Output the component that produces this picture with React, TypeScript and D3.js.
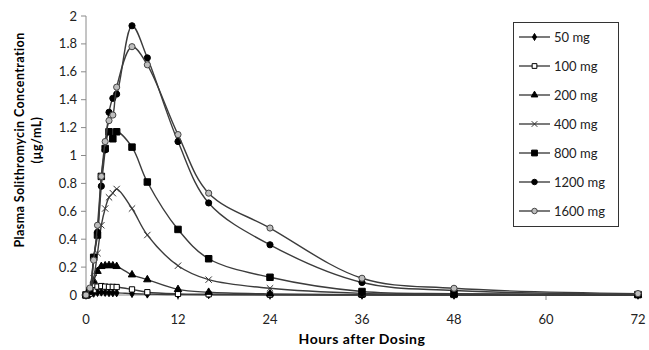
import { useEffect, useRef } from 'react'
import * as d3 from 'd3'

// sampling times (hours after dosing)
const hours = [0, 0.5, 1, 1.5, 2, 2.5, 3, 3.5, 4, 6, 8, 12, 16, 24, 36, 48, 72]

const doses = ['50 mg', '100 mg', '200 mg', '400 mg', '800 mg', '1200 mg', '1600 mg']

const conc50 = [0, 0.005, 0.012, 0.018, 0.02, 0.018, 0.016, 0.015, 0.015, 0.01, 0.006, 0.003, 0.002, 0.001, 0, 0, 0]
const conc100 = [0, 0.01, 0.035, 0.06, 0.064, 0.06, 0.058, 0.058, 0.057, 0.04, 0.02, 0.008, 0.005, 0.002, 0.001, 0, 0]
const conc200 = [0, 0.02, 0.1, 0.17, 0.205, 0.21, 0.212, 0.21, 0.205, 0.145, 0.11, 0.04, 0.02, 0.008, 0.003, 0.001, 0]
const conc400 = [0, 0.02, 0.12, 0.3, 0.5, 0.62, 0.7, 0.73, 0.76, 0.62, 0.43, 0.21, 0.11, 0.048, 0.012, 0.005, 0.001]
const conc800 = [0, 0.03, 0.27, 0.43, 0.85, 1.05, 1.17, 1.12, 1.17, 1.06, 0.81, 0.47, 0.26, 0.127, 0.025, 0.01, 0.003]
const conc1200 = [0, 0.04, 0.27, 0.45, 0.78, 1.04, 1.31, 1.41, 1.44, 1.93, 1.7, 1.1, 0.66, 0.36, 0.09, 0.032, 0.006]
const conc1600 = [0, 0.05, 0.25, 0.5, 0.85, 1.1, 1.25, 1.29, 1.49, 1.78, 1.65, 1.15, 0.73, 0.48, 0.12, 0.048, 0.01]

const seriesValues = [conc50, conc100, conc200, conc400, conc800, conc1200, conc1600]

const xTicks = [0, 12, 24, 36, 48, 60, 72]
const yTicks = [0, 0.2, 0.4, 0.6, 0.8, 1, 1.2, 1.4, 1.6, 1.8, 2]

const markerStyles = [
  { type: d3.symbolDiamond, size: 18, fill: '#000', stroke: '#000' },
  { type: d3.symbolSquare, size: 28, fill: '#fff', stroke: '#000' },
  { type: d3.symbolTriangle, size: 24, fill: '#000', stroke: '#000' },
  { type: d3.symbolTimes, size: 28, fill: 'none', stroke: '#333' },
  { type: d3.symbolSquare, size: 42, fill: '#000', stroke: '#000' },
  { type: d3.symbolCircle, size: 30, fill: '#000', stroke: '#000' },
  { type: d3.symbolCircle, size: 30, fill: '#bdbdbd', stroke: '#444' },
]

export default function App() {
  const ref = useRef<SVGSVGElement | null>(null)

  useEffect(() => {
    const svg = d3.select(ref.current)
    svg.selectAll('*').remove()

    const font = 'Lato, "Open Sans", sans-serif'
    const axisColor = '#8a8a8a'

    const x = d3.scaleLinear().domain([0, 72]).range([86, 638])
    const y = d3.scaleLinear().domain([0, 2]).range([295, 16])

    // y axis
    svg.append('line')
      .attr('x1', 86).attr('x2', 86)
      .attr('y1', y(2)).attr('y2', y(0))
      .attr('stroke', axisColor)
    svg.selectAll('.ytick')
      .data(yTicks)
      .enter().append('line')
      .attr('x1', 81).attr('x2', 86)
      .attr('y1', d => y(d)).attr('y2', d => y(d))
      .attr('stroke', axisColor)
    svg.selectAll('.ylab')
      .data(yTicks)
      .enter().append('text')
      .attr('x', 77)
      .attr('y', d => y(d) + 4.5)
      .attr('text-anchor', 'end')
      .style('font-family', font)
      .style('font-size', '13px')
      .style('fill', '#222')
      .text(d => String(d))

    // x axis
    svg.append('line')
      .attr('x1', x(0)).attr('x2', x(72))
      .attr('y1', y(0)).attr('y2', y(0))
      .attr('stroke', axisColor)
    svg.selectAll('.xtick')
      .data(xTicks)
      .enter().append('line')
      .attr('x1', d => x(d)).attr('x2', d => x(d))
      .attr('y1', y(0)).attr('y2', y(0) + 5)
      .attr('stroke', axisColor)
    svg.selectAll('.xlab')
      .data(xTicks)
      .enter().append('text')
      .attr('x', d => x(d))
      .attr('y', 324)
      .attr('text-anchor', 'middle')
      .style('font-family', font)
      .style('font-size', '13px')
      .style('fill', '#222')
      .text(d => String(d))

    // axis titles
    svg.append('text')
      .attr('x', 362).attr('y', 344)
      .attr('text-anchor', 'middle')
      .style('font-family', font)
      .style('font-size', '14px')
      .style('font-weight', 'bold')
      .style('letter-spacing', '0.5px')
      .text('Hours after Dosing')

    const yt = svg.append('text')
      .attr('transform', 'translate(24,140) rotate(-90)')
      .attr('text-anchor', 'middle')
      .style('font-family', font)
      .style('font-size', '12.5px')
      .style('font-weight', 'bold')
      .style('letter-spacing', '0.4px')
    yt.append('tspan').attr('x', 0).attr('y', 0).text('Plasma Solithromycin Concentration')
    yt.append('tspan').attr('x', 0).attr('y', 17).text('(µg/mL)')

    // series
    const line = d3.line<number>()
      .x((_, i) => x(hours[i]))
      .y(d => y(d))
      .curve(d3.curveCatmullRom.alpha(0.5))

    seriesValues.forEach((vals, si) => {
      const m = markerStyles[si]
      const g = svg.append('g')
      g.append('path')
        .attr('d', line(vals))
        .attr('fill', 'none')
        .attr('stroke', '#3c3c3c')
        .attr('stroke-width', 1.4)
      g.selectAll('path.mk')
        .data(vals)
        .enter().append('path')
        .attr('class', 'mk')
        .attr('d', d3.symbol().type(m.type).size(m.size))
        .attr('transform', (d, i) => `translate(${x(hours[i])},${y(d)})`)
        .attr('fill', m.fill)
        .attr('stroke', m.stroke)
        .attr('stroke-width', 1)
    })

    // legend
    const legend = svg.append('g')
    legend.append('rect')
      .attr('x', 513.5).attr('y', 22.5)
      .attr('width', 105).attr('height', 204)
      .attr('fill', '#fff')
      .attr('stroke', '#333')
    doses.forEach((name, i) => {
      const m = markerStyles[i]
      const ly = 37 + i * 29
      legend.append('line')
        .attr('x1', 519).attr('x2', 550)
        .attr('y1', ly).attr('y2', ly)
        .attr('stroke', '#222')
        .attr('stroke-width', 1.2)
      legend.append('path')
        .attr('d', d3.symbol().type(m.type).size(m.size * 0.8)())
        .attr('transform', `translate(534.5,${ly})`)
        .attr('fill', m.fill)
        .attr('stroke', m.stroke)
      legend.append('text')
        .attr('x', 554).attr('y', ly + 4.5)
        .style('font-family', font)
        .style('font-size', '13px')
        .style('fill', '#222')
        .text(name)
    })
  }, [])

  return (
    <svg ref={ref} width={649} height={350}
      style={{ position: 'absolute', left: 0, top: 0, background: '#fff' }} />
  )
}
